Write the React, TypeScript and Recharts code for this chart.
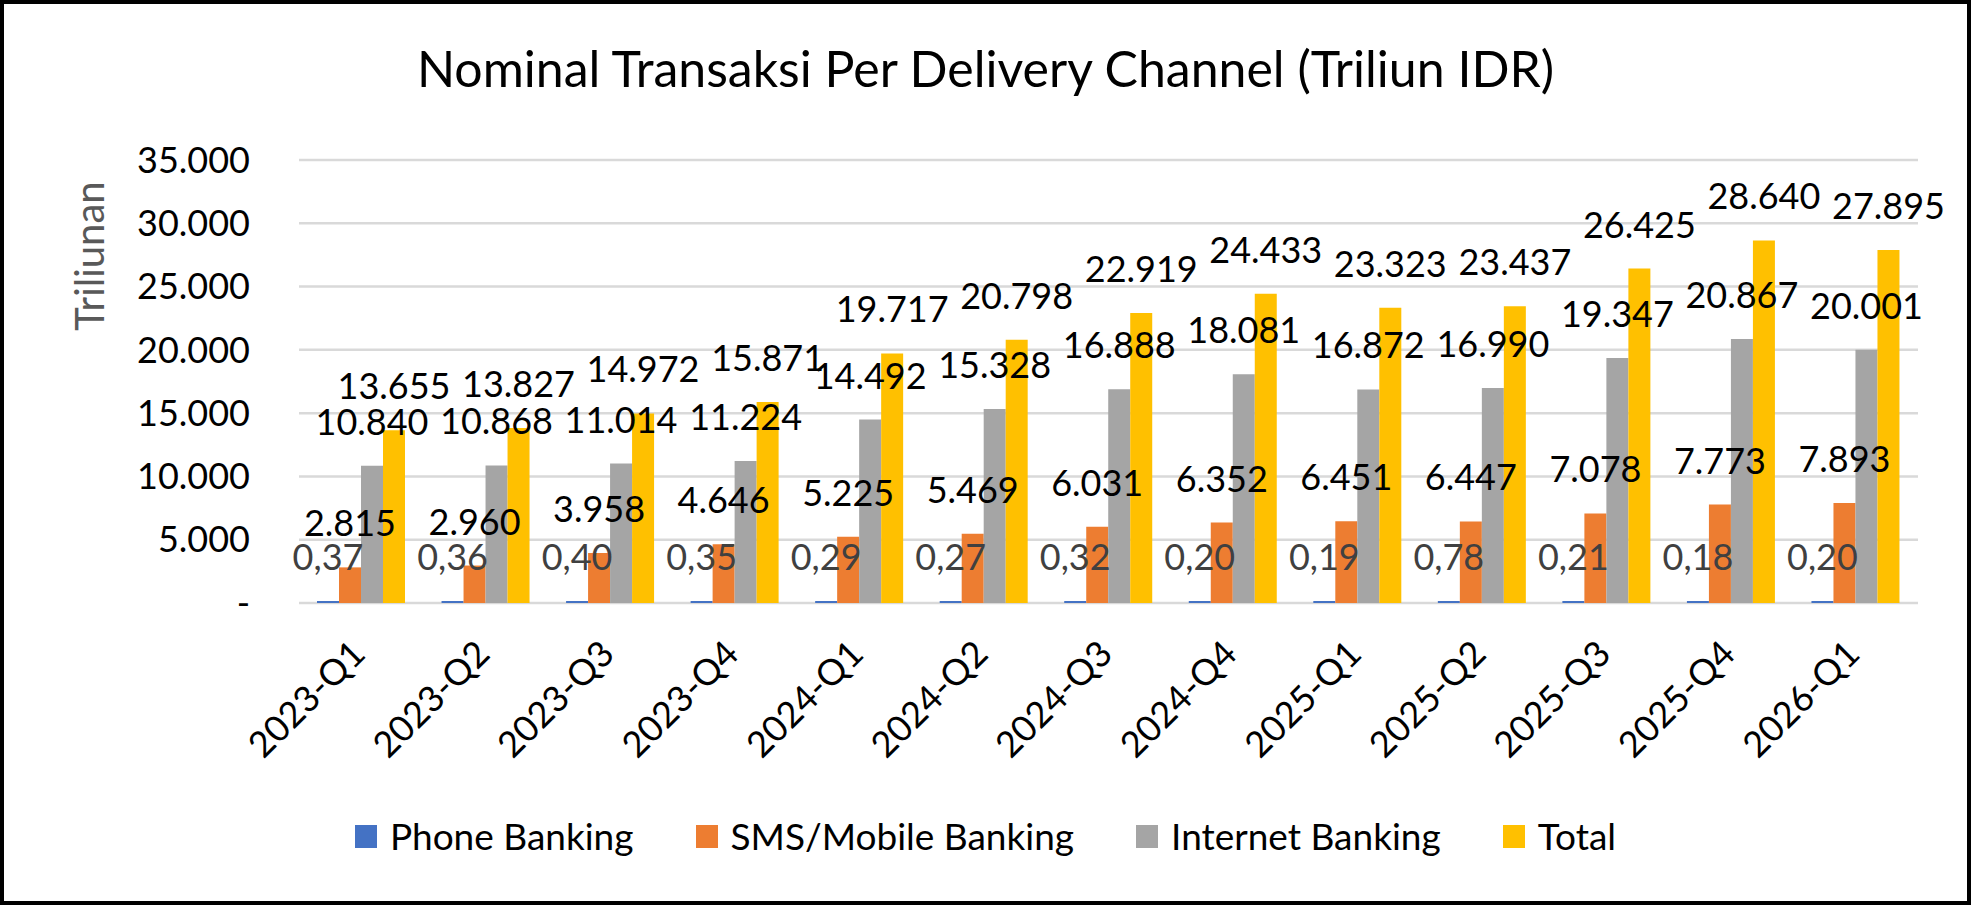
import React from 'react';
import { BarChart, Bar, XAxis, YAxis, CartesianGrid, Legend, LabelList } from 'recharts';

const quarters = [
  '2023-Q1', '2023-Q2', '2023-Q3', '2023-Q4',
  '2024-Q1', '2024-Q2', '2024-Q3', '2024-Q4',
  '2025-Q1', '2025-Q2', '2025-Q3', '2025-Q4',
  '2026-Q1',
];
const phoneBanking = [0.37, 0.36, 0.4, 0.35, 0.29, 0.27, 0.32, 0.2, 0.19, 0.78, 0.21, 0.18, 0.2];
const smsMobileBanking = [2815, 2960, 3958, 4646, 5225, 5469, 6031, 6352, 6451, 6447, 7078, 7773, 7893];
const internetBanking = [10840, 10868, 11014, 11224, 14492, 15328, 16888, 18081, 16872, 16990, 19347, 20867, 20001];
const totals = [13655, 13827, 14972, 15871, 19717, 20798, 22919, 24433, 23323, 23437, 26425, 28640, 27895];
const yTicks = [0, 5000, 10000, 15000, 20000, 25000, 30000, 35000];

const series = [
  { key: 'phone', name: 'Phone Banking', color: '#4472C4' },
  { key: 'sms', name: 'SMS/Mobile Banking', color: '#ED7D31' },
  { key: 'internet', name: 'Internet Banking', color: '#A5A5A5' },
  { key: 'total', name: 'Total', color: '#FFC000' },
];

const data = quarters.map((quarter, i) => ({
  quarter,
  phone: phoneBanking[i],
  sms: smsMobileBanking[i],
  internet: internetBanking[i],
  total: totals[i],
}));

const FONT = 'Lato, "Open Sans", sans-serif';

const thousands = (v: number) => (v === 0 ? '-' : String(Math.round(v)).replace(/\B(?=(\d{3})+(?!\d))/g, '.'));
const decimals = (v: number) => v.toFixed(2).replace('.', ',');

function QuarterTick({ x, y, payload }: any) {
  return (
    <g transform={`translate(${x},${y})`}>
      <text
        x={6}
        y={53}
        transform="rotate(-45 6 53)"
        textAnchor="end"
        fill="#000"
        fontSize={36}
        fontFamily={FONT}
      >
        {payload.value}
      </text>
    </g>
  );
}

function AxisTitle({ viewBox }: any) {
  const cx = viewBox.x + 89;
  const cy = 256;
  return (
    <text
      x={cx}
      y={cy}
      transform={`rotate(-90 ${cx} ${cy})`}
      textAnchor="middle"
      dominantBaseline="central"
      fill="#595959"
      fontSize={40}
      fontFamily={FONT}
    >
      Triliunan
    </text>
  );
}

function LegendRow() {
  return (
    <div style={{ display: 'flex', justifyContent: 'center', alignItems: 'center', height: 40, fontFamily: FONT, fontSize: 37 }}>
      {series.map((s, i) => (
        <div key={s.key} style={{ display: 'flex', alignItems: 'center', marginLeft: i === 0 ? 0 : 62 }}>
          <span style={{ display: 'inline-block', width: 22, height: 23, background: s.color, marginRight: 13 }} />
          <span style={{ color: '#000', lineHeight: '40px' }}>{s.name}</span>
        </div>
      ))}
    </div>
  );
}

export default function App() {
  return (
    <div style={{ position: 'absolute', left: 0, top: 0, width: 1971, height: 905, background: '#fff' }}>
      <div
        style={{
          position: 'absolute',
          left: 0,
          top: 43,
          width: 1971,
          textAlign: 'center',
          fontFamily: FONT,
          fontSize: 50,
          lineHeight: '50px',
          color: '#000',
        }}
      >
        Nominal Transaksi Per Delivery Channel (Triliun IDR)
      </div>
      <BarChart
        width={1971}
        height={905}
        data={data}
        margin={{ top: 160, right: 53, bottom: 0, left: 0 }}
        barCategoryGap={18}
        barGap={0}
      >
        <CartesianGrid vertical={false} stroke="#D9D9D9" strokeWidth={2.5} />
        <XAxis
          dataKey="quarter"
          height={302}
          axisLine={false}
          tickLine={false}
          tickSize={0}
          tickMargin={0}
          interval={0}
          tick={<QuarterTick />}
        />
        <YAxis
          width={299}
          domain={[0, 35000]}
          ticks={yTicks}
          axisLine={false}
          tickLine={false}
          tickSize={0}
          tickMargin={49}
          tickFormatter={thousands}
          tick={{ fill: '#000', fontSize: 36, fontFamily: FONT }}
          label={<AxisTitle />}
        />
        <Legend
          layout="horizontal"
          verticalAlign="middle"
          align="center"
          wrapperStyle={{ top: 816, left: 0, width: 1971 }}
          content={<LegendRow />}
        />
        {series.map((s) => (
          <Bar key={s.key} dataKey={s.key} name={s.name} fill={s.color} minPointSize={s.key === 'phone' ? 2 : 0} isAnimationActive={false}>
            <LabelList
              dataKey={s.key}
              position="top"
              offset={31}
              formatter={(v: any) => (s.key === 'phone' ? decimals(Number(v)) : thousands(Number(v)))}
              fill={s.key === 'phone' ? '#404040' : '#000'}
              fontSize={36}
              fontFamily={FONT}
            />
          </Bar>
        ))}
      </BarChart>
      <div
        style={{
          position: 'absolute',
          left: 0,
          top: 0,
          width: 1971,
          height: 905,
          boxSizing: 'border-box',
          border: '4px solid #000',
          pointerEvents: 'none',
        }}
      />
    </div>
  );
}
